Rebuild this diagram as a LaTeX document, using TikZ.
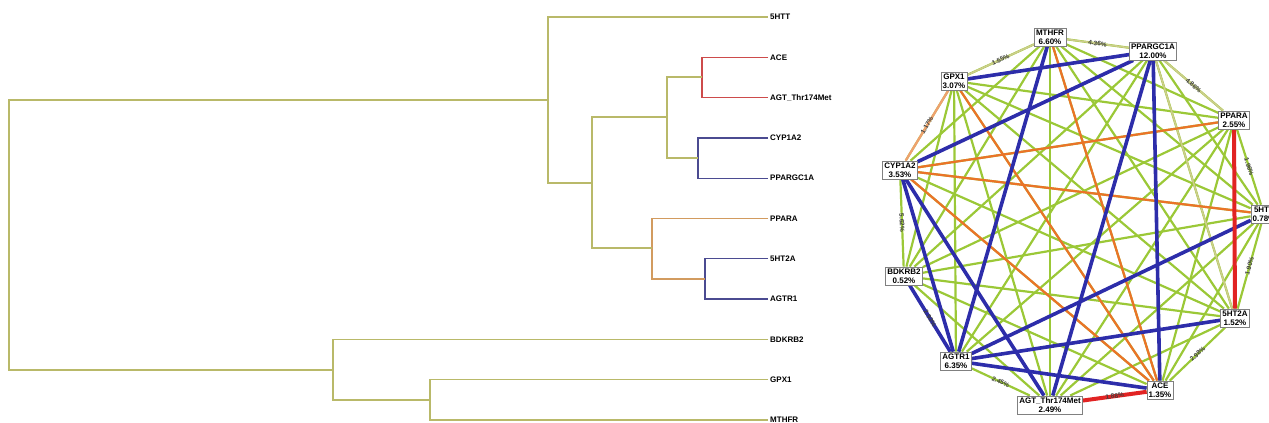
\documentclass[tikz,border=0pt]{standalone}
\usepackage{fontspec}
\setmainfont{Liberation Sans}
\usepackage{tikz}
\usetikzlibrary{backgrounds}
\definecolor{dendro}{RGB}{185,185,105}
\definecolor{dendrored}{RGB}{205,75,75}
\definecolor{dendroblue}{RGB}{75,75,145}
\definecolor{dendroorange}{RGB}{210,155,95}
\definecolor{lnkgreen}{RGB}{155,200,55}
\definecolor{lnkpale}{RGB}{205,205,140}
\definecolor{lnkblue}{RGB}{45,45,170}
\definecolor{lnkred}{RGB}{225,35,35}
\definecolor{lnkorange}{RGB}{235,115,40}
\definecolor{lnksalmon}{RGB}{240,160,110}

\begin{document}
\begin{tikzpicture}[x=1pt,y=-1pt,
  leaf/.style={anchor=west,inner sep=2pt,font=\fontsize{8}{9}\selectfont\bfseries},
  gene/.style={draw=gray,fill=white,line width=0.5pt,inner sep=1.8pt,align=center,
    font=\fontsize{8}{9}\selectfont\bfseries},
  branch/.style={line width=1.3pt},
  lnk/.style={lnkgreen,line width=2.2pt},
  lnkp/.style={lnkpale,line width=1.6pt},
  lnkb/.style={lnkblue,line width=3.6pt},
  lnkr/.style={lnkred,line width=4pt},
  lnko/.style={lnkorange,line width=2.2pt},
  pct/.style={font=\fontsize{6.5}{6.5}\selectfont\bfseries,text=black!75,sloped,inner sep=1pt}]

\useasboundingbox (0,0) rectangle (1269,423);

% Dendrogram leaves
\foreach \name/\txt [count=\i] in {5HTT/5HTT,ACE/ACE,AGT/AGT\_Thr174Met,CYP1A2/CYP1A2,
  PPARGC1A/PPARGC1A,PPARA/PPARA,5HT2A/5HT2A,AGTR1/AGTR1,BDKRB2/BDKRB2,GPX1/GPX1,MTHFR/MTHFR}
  \node[leaf] (t-\name) at (768,{17+40.3*(\i-1)}) {\txt};

% Junctions
\coordinate (d-ace) at (702,77);
\coordinate (d-cyp) at (698,158);
\coordinate (d-a) at (667,117);
\coordinate (d-5ht) at (705,279);
\coordinate (d-ppara) at (652,248);
\coordinate (d-b) at (592,183);
\coordinate (d-top) at (548,100);
\coordinate (d-gpx) at (430,400);
\coordinate (d-bot) at (333,370);
\coordinate (d-root) at (9,235);

% Branches
\draw[branch,dendrored] (t-ACE.west) -| (d-ace) |- (t-AGT.west);
\draw[branch,dendroblue] (t-CYP1A2.west) -| (d-cyp) |- (t-PPARGC1A.west);
\draw[branch,dendroblue] (t-5HT2A.west) -| (d-5ht) |- (t-AGTR1.west);
\draw[branch,dendroorange] (t-PPARA.west) -| (d-ppara) |- (d-5ht);
\draw[branch,dendro] (d-ace) -| (d-a) |- (d-cyp);
\draw[branch,dendro] (d-a) -| (d-b) |- (d-ppara);
\draw[branch,dendro] (t-5HTT.west) -| (d-top) |- (d-b);
\draw[branch,dendro] (t-GPX1.west) -| (d-gpx) |- (t-MTHFR.west);
\draw[branch,dendro] (t-BDKRB2.west) -| (d-bot) |- (d-gpx);
\draw[branch,dendro] (d-top) -| (d-root) |- (d-bot);

% Interaction circle
\foreach \name/\txt/\val/\x/\y in {MTHFR/MTHFR/6.60/1050/37, PPARGC1A/PPARGC1A/12.00/1153/51,
  PPARA/PPARA/2.55/1234/120, 5HTT/5HTT/0.78/1264/214, 5HT2A/5HT2A/1.52/1235/318,
  ACE/ACE/1.35/1160/390, AGT/AGT\_Thr174Met/2.49/1050/405, AGTR1/AGTR1/6.35/956/361,
  BDKRB2/BDKRB2/0.52/904/276, CYP1A2/CYP1A2/3.53/900/170, GPX1/GPX1/3.07/954/81}
  \node[gene] (g-\name) at (\x,\y) {\txt\\\val\%};

\begin{scope}[on background layer]
% all pairs
\foreach \a [count=\i] in {MTHFR,PPARGC1A,PPARA,5HTT,5HT2A,ACE,AGT,AGTR1,BDKRB2,CYP1A2,GPX1}
  \foreach \b [count=\j] in {MTHFR,PPARGC1A,PPARA,5HTT,5HT2A,ACE,AGT,AGTR1,BDKRB2,CYP1A2,GPX1}
    {\ifnum\j>\i \draw[lnk] (g-\a) -- (g-\b); \fi}
\foreach \a/\b in {MTHFR/PPARGC1A, PPARGC1A/PPARA, GPX1/MTHFR, PPARGC1A/5HT2A}
  \draw[lnkp] (g-\a) -- (g-\b);
\draw[lnko,lnksalmon] (g-GPX1) -- (g-CYP1A2);
\foreach \a/\b in {CYP1A2/PPARA, CYP1A2/5HTT, MTHFR/ACE, CYP1A2/ACE, GPX1/ACE}
  \draw[lnko] (g-\a) -- (g-\b);
\foreach \a/\b in {GPX1/PPARGC1A, CYP1A2/PPARGC1A, MTHFR/AGTR1, PPARGC1A/AGT, PPARGC1A/ACE,
  CYP1A2/AGTR1, CYP1A2/AGT, BDKRB2/AGTR1, AGTR1/5HTT, AGTR1/5HT2A, AGTR1/ACE}
  \draw[lnkb] (g-\a) -- (g-\b);
\foreach \a/\b in {PPARA/5HT2A, ACE/AGT}
  \draw[lnkr] (g-\a) -- (g-\b);
\end{scope}

% Percentages on outer links
\foreach \a/\b/\v in {MTHFR/PPARGC1A/4.36, PPARGC1A/PPARA/4.86, PPARA/5HTT/1.96, 5HTT/5HT2A/1.90,
  5HT2A/ACE/2.98, ACE/AGT/1.88, AGT/AGTR1/2.45, AGTR1/BDKRB2/2.93, BDKRB2/CYP1A2/5.62,
  CYP1A2/GPX1/1.17, GPX1/MTHFR/1.55}
  \path (g-\a) -- node[pct] {\v\%} (g-\b);

\end{tikzpicture}
\end{document}
